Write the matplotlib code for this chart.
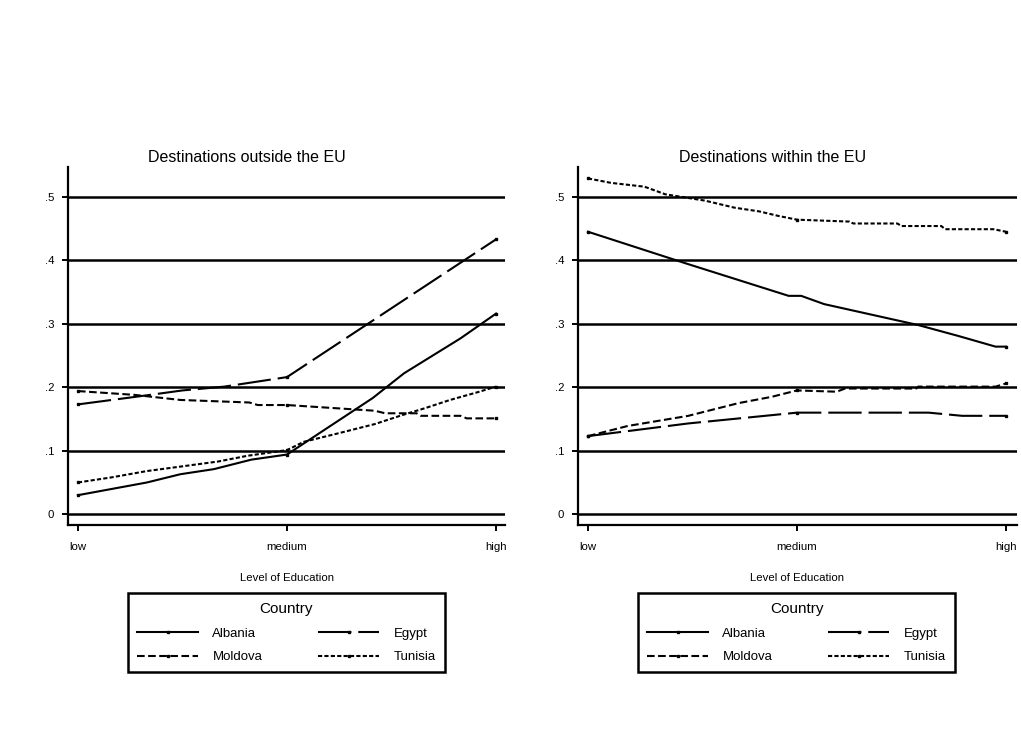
import matplotlib
matplotlib.use('Agg')
import matplotlib.pyplot as plt

plt.rcParams['font.family'] = ['Liberation Sans', 'DejaVu Sans']
plt.rcParams['lines.scale_dashes'] = False

# ---------------- data ----------------
education_levels = ['low', 'medium', 'high']
education_pos = [0, 1, 2]
y_ticks = [0, 0.1, 0.2, 0.3, 0.4, 0.5]
y_tick_labels = ['0', '.1', '.2', '.3', '.4', '.5']
panel_titles = ['Destinations outside the EU', 'Destinations within the EU']
countries = ['Albania', 'Egypt', 'Moldova', 'Tunisia']

# Destinations outside the EU
out_albania_x = [0, 0.33, 0.49, 0.65, 0.83, 1.0, 1.41, 1.56, 1.83, 2.0]
out_albania_y = [0.030, 0.050, 0.063, 0.071, 0.086, 0.094, 0.183, 0.222, 0.277, 0.316]
out_egypt_x = [0, 0.30, 0.50, 0.70, 1.0, 2.0]
out_egypt_y = [0.173, 0.186, 0.195, 0.201, 0.216, 0.433]
out_moldova_x = [0, 0.27, 0.49, 0.82, 0.86, 1.0, 1.42, 1.47, 1.62, 1.64, 1.83, 1.86, 2.0]
out_moldova_y = [0.194, 0.188, 0.180, 0.176, 0.172, 0.172, 0.163, 0.159, 0.159, 0.155, 0.155, 0.151, 0.151]
out_tunisia_x = [0, 0.16, 0.33, 0.49, 0.67, 0.81, 1.0, 1.08, 1.24, 1.42, 1.55, 1.66, 1.78, 1.91, 2.0]
out_tunisia_y = [0.050, 0.058, 0.068, 0.075, 0.083, 0.092, 0.101, 0.114, 0.127, 0.142, 0.156, 0.167, 0.180, 0.192, 0.201]

# Destinations within the EU
in_albania_x = [0, 0.46, 0.96, 1.02, 1.13, 1.58, 1.77, 1.95, 2.0]
in_albania_y = [0.445, 0.396, 0.344, 0.344, 0.331, 0.298, 0.281, 0.264, 0.264]
in_egypt_x = [0, 0.48, 1.0, 1.63, 1.79, 2.0]
in_egypt_y = [0.123, 0.143, 0.160, 0.160, 0.155, 0.155]
in_moldova_x = [0, 0.19, 0.48, 0.72, 0.88, 1.0, 1.19, 1.23, 1.57, 1.58, 1.95, 2.0]
in_moldova_y = [0.123, 0.139, 0.155, 0.175, 0.185, 0.195, 0.193, 0.198, 0.198, 0.201, 0.201, 0.206]
in_tunisia_x = [0, 0.11, 0.27, 0.37, 0.56, 0.70, 0.82, 0.91, 1.0, 1.25, 1.27, 1.48, 1.50, 1.69, 1.71, 1.94, 2.0]
in_tunisia_y = [0.529, 0.522, 0.516, 0.504, 0.494, 0.483, 0.477, 0.470, 0.464, 0.461, 0.458, 0.458, 0.454, 0.454, 0.449, 0.449, 0.445]

panels = [
    {'Albania': (out_albania_x, out_albania_y), 'Egypt': (out_egypt_x, out_egypt_y),
     'Moldova': (out_moldova_x, out_moldova_y), 'Tunisia': (out_tunisia_x, out_tunisia_y)},
    {'Albania': (in_albania_x, in_albania_y), 'Egypt': (in_egypt_x, in_egypt_y),
     'Moldova': (in_moldova_x, in_moldova_y), 'Tunisia': (in_tunisia_x, in_tunisia_y)},
]

styles = {'Albania': '-', 'Egypt': (0, (24, 5)), 'Moldova': (0, (5.5, 2.5)), 'Tunisia': (0, (3, 1.6))}

# ---------------- layout ----------------
W, H = 1021, 738
fig = plt.figure(figsize=(W / 100, H / 100), dpi=100)

def fx(px):
    return px / W

def fy(py):
    return 1 - py / H

axes_px = [(68, 505), (578, 1017)]
top_px, bot_px = 167, 525
title_centers = [247, 773]
legend_px = [(128, 445), (638, 955)]

for i, (x0, x1) in enumerate(axes_px):
    ax = fig.add_axes([fx(x0), fy(bot_px), fx(x1 - x0), (bot_px - top_px) / H])
    data = panels[i]
    for c in countries:
        xs, ys = data[c]
        mk = [k for k, v in enumerate(xs) if v in education_pos]
        ax.plot(xs, ys, color='black', lw=1.5, linestyle=styles[c], label=c,
                marker='s', markersize=1.6, markevery=mk, dash_capstyle='butt')
    lo = -10 / 209.5
    ax.set_xlim(lo, 2 + (x1 - x0 - 10 - 2 * 209) / 209.0)
    ax.set_ylim(-0.017, 0.547)
    ax.set_yticks(y_ticks)
    ax.set_yticklabels(y_tick_labels)
    ax.set_xticks(education_pos)
    ax.set_xticklabels(education_levels)
    ax.grid(axis='y', color='black', lw=1.8)
    ax.set_axisbelow(True)
    for s in ['top', 'right']:
        ax.spines[s].set_visible(False)
    for s in ['left', 'bottom']:
        ax.spines[s].set_linewidth(1.6)
    ax.tick_params(axis='both', direction='out', length=4, width=1.4, labelsize=8.2, color='black')
    ax.tick_params(axis='x', pad=8)
    ax.tick_params(axis='y', pad=6)

    fig.text(fx(title_centers[i]), fy(158), panel_titles[i], ha='center', va='center', fontsize=11.5)
    fig.text(fx((x0 + x1) / 2), fy(578), 'Level of Education', ha='center', va='center', fontsize=8.2)

    handles, labels = ax.get_legend_handles_labels()
    order = [0, 2, 1, 3]
    lx0, lx1 = legend_px[i]
    leg = fig.legend([handles[k] for k in order], [labels[k] for k in order],
                     loc='upper left',
                     bbox_to_anchor=(fx(lx0), fy(673), fx(lx1 - lx0), (673 - 593) / H),
                     mode='expand', ncol=2, title='Country', fontsize=9.5, title_fontsize=11,
                     frameon=True, fancybox=False, edgecolor='black', framealpha=1,
                     handlelength=4.6, handletextpad=1.1, borderpad=0.7, labelspacing=0.85,
                     borderaxespad=0, columnspacing=1.5)
    leg.get_frame().set_linewidth(1.8)

fig.savefig('out.png', dpi=100)
